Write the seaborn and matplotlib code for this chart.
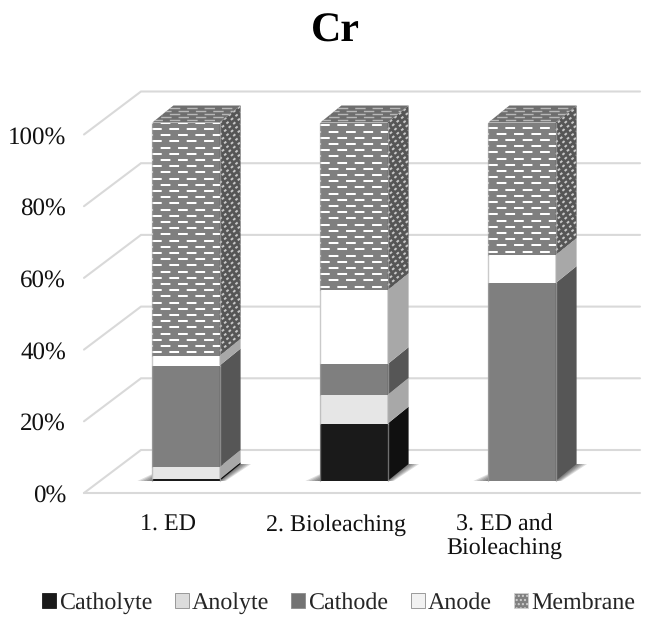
import numpy as np
import pandas as pd
import matplotlib
matplotlib.use("Agg")
import matplotlib.pyplot as plt
from matplotlib.patches import Patch, Polygon
import seaborn as sns

categories = ["1. ED", "2. Bioleaching", "3. ED and\nBioleaching"]
series_names = ["Catholyte", "Anolyte", "Cathode", "Anode", "Membrane"]
catholyte = [0.5, 16.0, 0.0]
anolyte = [3.4, 8.0, 0.0]
cathode = [28.3, 8.6, 55.2]
anode = [2.7, 20.6, 7.8]
membrane = [65.1, 46.8, 37.0]
y_ticks = [0, 20, 40, 60, 80, 100]
y_labels = ["0%", "20%", "40%", "60%", "80%", "100%"]

front_colors = ["#1a1a1a", "#e6e6e6", "#7f7f7f", "#ffffff", "#7f7f7f"]
side_colors = ["#101010", "#a8a8a8", "#565656", "#a8a8a8", "#565656"]
legend_colors = ["#1a1a1a", "#dcdcdc", "#737373", "#f2f2f2", "#808080"]

W, H = 645, 620
PX_Y = 3.585      # pixels per percent
PX_X = 168.0      # pixels per category
DX = 21 / PX_X    # bar depth
DY = 17 / PX_Y
BASE = 12 / PX_Y  # bars stand in the middle of the floor
BAR_W = 0.40

sns.set_theme(style="white")
plt.rcParams["font.family"] = ["Liberation Serif", "DejaVu Serif"]
plt.rcParams["lines.scale_dashes"] = False
plt.rcParams["text.hinting"] = "no_hinting"
plt.rcParams["text.hinting_factor"] = 1

fig = plt.figure(figsize=(W / 100, H / 100), dpi=100)
ax = fig.add_axes([84 / W, 1 - 493 / H, (640 - 84) / W, (493 - 91) / H])

# back wall and floor
back_x0 = (141 - 186) / PX_X
front_x0 = (84 - 186) / PX_X
x_end = (640 - 186) / PX_X
wall_dy = 43 / PX_Y
for t in y_ticks:
    ax.plot([front_x0, back_x0, x_end], [t, t + wall_dy, t + wall_dy],
            color="#d9d9d9", lw=1.5, zorder=1, clip_on=False, solid_joinstyle="miter")
ax.plot([front_x0, x_end], [0, 0], color="#d9d9d9", lw=1.5, zorder=1, clip_on=False)

# soft shadow on the floor
for g in [15, 12, 9, 6, 3]:
    for k in range(len(categories)):
        left = k - BAR_W / 2
        right = k + BAR_W / 2
        ax.add_patch(Polygon([(left - g / PX_X, BASE), (right + g * 0.4 / PX_X, BASE),
                              (right + DX + g * 0.7 / PX_X, BASE + DY),
                              (left + DX, BASE + DY)],
                             closed=True, fc="black", ec="none", alpha=0.13, zorder=1.5))


def dash_rows(clip, x0, x1, y_start, y_stop, step, slope, color, lw, on, off):
    # rows of dashes clipped to a bar face, every other row shifted by half a dash
    for n, y in enumerate(np.arange(y_start, y_stop, step)):
        shift = (on + off) / 2 if n % 2 else 0
        line, = ax.plot([x0, x1], [y, y + slope * (x1 - x0)], color=color, lw=lw,
                        linestyle=(shift, (on, off)), dash_capstyle="butt", zorder=4)
        line.set_clip_path(clip)


stack = [catholyte, anolyte, cathode, anode, membrane]
bottom = np.full(len(categories), BASE)
for s, name in enumerate(series_names):
    vals = np.array(stack[s], dtype=float)
    df = pd.DataFrame({"treatment": categories, "share": vals})
    before = len(ax.patches)
    sns.barplot(data=df, x="treatment", y="share", color=front_colors[s], saturation=1,
                width=BAR_W, bottom=bottom, errorbar=None, linewidth=0, ax=ax, zorder=3)
    fronts = ax.patches[before:]
    top = bottom + vals
    for k in range(len(categories)):
        if vals[k] <= 0:
            continue
        right = k + BAR_W / 2
        left = k - BAR_W / 2
        side = Polygon([(right, bottom[k]), (right + DX, bottom[k] + DY),
                        (right + DX, top[k] + DY), (right, top[k])],
                       closed=True, fc=side_colors[s], ec="none", zorder=3)
        ax.add_patch(side)
        # light bevel on the bar edges
        ax.plot([left, left], [bottom[k], top[k]], color="#a8a8a8", lw=1.0, alpha=0.6, zorder=5)
        ax.plot([right, right], [bottom[k], top[k]], color="#b0b0b0", lw=1.0, alpha=0.6, zorder=5)
        if name == "Membrane":
            dash_rows(fronts[k], left, right, bottom[k] + 1.0, top[k], 6.2 / PX_Y, 0,
                      "white", 1.45, 7.0, 5.5)
            dash_rows(side, right, right + DX, bottom[k] - 2, top[k] + DY, 6.0 / PX_Y,
                      DY / DX, "#c8c8c8", 1.4, 2.0, 2.2)
            lid = Polygon([(left, top[k]), (right, top[k]), (right + DX, top[k] + DY),
                           (left + DX, top[k] + DY)],
                          closed=True, fc="#6e6e6e", ec="none", zorder=3)
            ax.add_patch(lid)
            dash_rows(lid, left, right + DX, top[k] + 0.6, top[k] + DY, 3.2 / PX_Y, 0,
                      "#b8b8b8", 1.0, 7.5, 5.0)
    bottom = top

ax.set_xlim(front_x0, x_end)
ax.set_ylim(0, (493 - 91) / PX_Y)
# the category labels sit a little left of their bars
ax.set_xticks(np.arange(len(categories)) - 18 / PX_X, categories)
ax.set_yticks(y_ticks)
ax.set_yticklabels(y_labels)
ax.set_xlabel("")
ax.set_ylabel("")
ax.tick_params(axis="y", length=0, pad=13, labelsize=18, labelcolor="#111111")
ax.tick_params(axis="x", length=0, pad=15, labelsize=17.4, labelcolor="#111111")
for sp in ax.spines.values():
    sp.set_visible(False)
for lab in ax.get_xticklabels():
    lab.set_linespacing(1.08)

fig.text(335.5 / W, 1 - 31 / H, "Cr", ha="center", va="center", fontsize=30,
         fontweight="bold", color="black")

handles = [Patch(fc=c, ec="#8c8c8c" if c != "#1a1a1a" else "#1a1a1a", lw=0.6, label=n)
           for c, n in zip(legend_colors, series_names)]
handles[-1].set_hatch("....")
handles[-1].set_edgecolor("#d0d0d0")
fig.legend(handles=handles, ncol=5, loc="center", bbox_to_anchor=(338.5 / W, 1 - 603 / H),
           frameon=False, fontsize=17.4, handlelength=0.58, handleheight=0.58,
           handletextpad=0.12, columnspacing=0.93, borderpad=0, borderaxespad=0)

fig.savefig("out.png", dpi=100)
